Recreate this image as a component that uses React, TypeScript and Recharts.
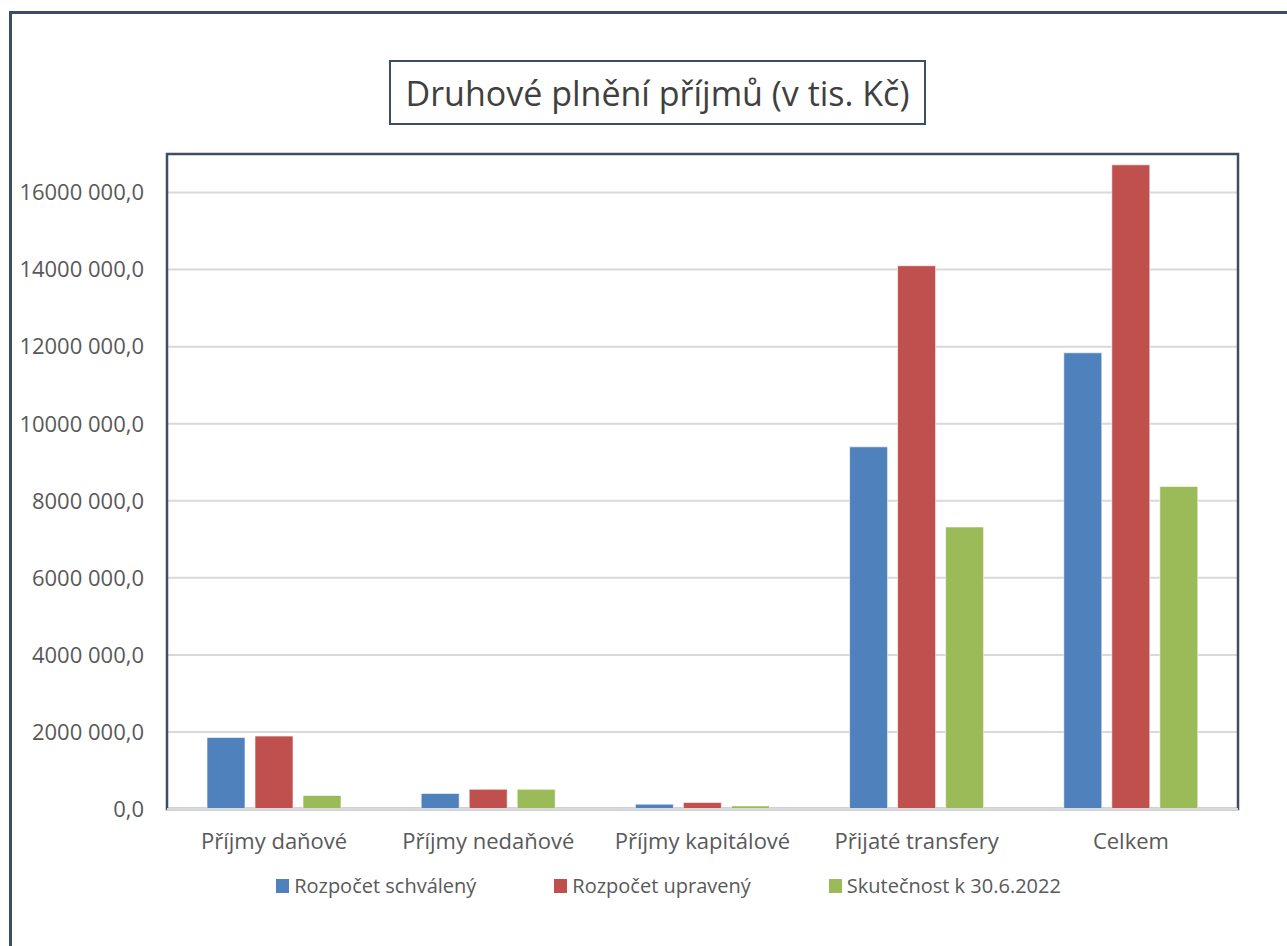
import React from 'react';
import {
  BarChart,
  Bar,
  XAxis,
  YAxis,
  CartesianGrid,
  Legend,
  ReferenceArea,
  ReferenceLine,
} from 'recharts';

const categories = [
  'Příjmy daňové',
  'Příjmy nedaňové',
  'Příjmy kapitálové',
  'Přijaté transfery',
  'Celkem',
];
const rozpocetSchvaleny = [1857000, 404000, 126000, 9400000, 11840000];
const rozpocetUpraveny = [1892000, 511000, 170000, 14100000, 16720000];
const skutecnost = [350000, 511000, 81000, 7320000, 8370000];
const yTicks = [0, 2000000, 4000000, 6000000, 8000000, 10000000, 12000000, 14000000, 16000000];

const seriesDefs = [
  { key: 'schvaleny', name: 'Rozpočet schválený', color: '#4F81BD' },
  { key: 'upraveny', name: 'Rozpočet upravený', color: '#C0504D' },
  { key: 'skutecnost', name: 'Skutečnost k 30.6.2022', color: '#9BBB59' },
];

const data = categories.map((c, i) => ({
  name: c,
  schvaleny: rozpocetSchvaleny[i],
  upraveny: rozpocetUpraveny[i],
  skutecnost: skutecnost[i],
}));

const fmt = (v: number) => {
  const s = Math.round(v).toString();
  return (s.length > 3 ? s.slice(0, -3) + ' ' + s.slice(-3) : s) + ',0';
};

const FONT = '"Open Sans", sans-serif';
const TEXT = '#595959';
const DARK = '#3E4D66';

const LegendContent = () => (
  <div
    style={{
      display: 'flex',
      justifyContent: 'center',
      fontFamily: FONT,
      fontSize: 20,
      color: TEXT,
      paddingLeft: 50,
    }}
  >
    {seriesDefs.map((s, i) => (
      <div
        key={s.key}
        style={{ display: 'flex', alignItems: 'center', marginLeft: i === 0 ? 0 : 78 }}
      >
        <span
          style={{ display: 'inline-block', width: 13, height: 14, background: s.color, marginRight: 5 }}
        />
        <span>{s.name}</span>
      </div>
    ))}
  </div>
);

export default function App() {
  return (
    <div style={{ position: 'absolute', left: 0, top: 0, width: 1287, height: 946, background: '#fff', overflow: 'hidden' }}>
      <div
        style={{
          position: 'absolute',
          left: 9,
          top: 11,
          width: 1300,
          height: 960,
          border: `3px solid ${DARK}`,
          boxSizing: 'border-box',
        }}
      />
      <div
        style={{
          position: 'absolute',
          left: 389,
          top: 60,
          width: 537,
          height: 65,
          border: `2px solid ${DARK}`,
          boxSizing: 'border-box',
          display: 'flex',
          alignItems: 'center',
          justifyContent: 'center',
          fontFamily: FONT,
          fontSize: 34,
          color: '#404040',
          background: '#fff',
          whiteSpace: 'nowrap',
        }}
      >
        Druhové plnění příjmů (v tis. Kč)
      </div>
      <div style={{ position: 'absolute', left: 0, top: 0 }}>
        <BarChart
          width={1287}
          height={946}
          data={data}
          margin={{ top: 154, right: 49, bottom: 97, left: 0 }}
          barSize={38}
          barGap={10}
        >
          <CartesianGrid vertical={false} stroke="#D9D9D9" strokeWidth={2} />
          <ReferenceArea
            y1={0}
            y2={17000000}
            fill="none"
            stroke={DARK}
            strokeWidth={2.5}
            ifOverflow="visible"
          />
          <ReferenceLine y={0} stroke="#D9D9D9" strokeWidth={2} />
          <XAxis
            dataKey="name"
            axisLine={false}
            tickLine={false}
            tickSize={0}
            tickMargin={24}
            height={40}
            tick={{ fontFamily: FONT, fontSize: 22, fill: TEXT }}
            interval={0}
          />
          <YAxis
            width={167}
            domain={[0, 17000000]}
            ticks={yTicks}
            tickFormatter={fmt}
            axisLine={false}
            tickLine={false}
            tickSize={0}
            tickMargin={23}
            tick={{ fontFamily: FONT, fontSize: 22, fill: TEXT }}
          />
          <Legend
            layout="horizontal"
            verticalAlign="middle"
            wrapperStyle={{ position: 'absolute', top: 872, left: 0, width: 1287 }}
            content={() => <LegendContent />}
          />
          {seriesDefs.map((s) => (
            <Bar
              key={s.key}
              dataKey={s.key}
              name={s.name}
              fill={s.color}
              stroke="#ffffff"
              strokeOpacity={0.6}
              strokeWidth={1}
              isAnimationActive={false}
            />
          ))}
        </BarChart>
      </div>
    </div>
  );
}
